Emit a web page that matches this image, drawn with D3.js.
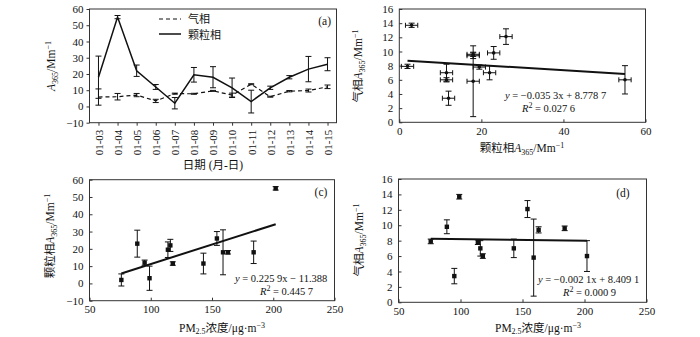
<!DOCTYPE html>
<html><head><meta charset="utf-8">
<script src="https://cdn.jsdelivr.net/npm/d3@7"></script>
<style>
body{margin:0;background:#fff;}
text{font-family:"Liberation Serif","Times New Roman","Noto Sans CJK SC",serif;fill:#111;}
</style></head>
<body><svg id="c" width="700" height="337"></svg>
<script>
// ---- data ----
const dates = ["01-03","01-04","01-05","01-06","01-07","01-08","01-09","01-10","01-11","01-12","01-13","01-14","01-15"];
const gas = [5.8,6.0,7.0,3.4,7.9,7.8,9.6,7.0,13.7,6.0,9.4,9.8,12.1];
const gasErr = [5,2,1,1,0.3,0.3,0.3,1.2,0.3,0.3,0.4,0.9,1.1];
const particle = [18,55,22,12,2,19.5,18,11.5,3,11.5,18,23,26];
const particleErr = [13,1,3.5,1.5,3.5,4.5,6.5,6,7,1,1,7.8,4];
const particleErrX = [1.5,1.5,1.5,1.5,1.5,1.5,1.5,1.5,1.5,1.5,1.5,1.5,1.5];
const pm25 = [159,202,116,95,76,114,184,143,99,118,163,89,154];
const fitB = {slope:-0.0353, intercept:8.7787, x0:2, x1:55};
const fitC = {slope:0.2259, intercept:-11.388, x0:76, x1:202};
const fitD = {slope:-0.0021, intercept:8.4091, x0:76, x1:202};
const ticksA = [-10,0,10,20,30,40,50,60];
const ticksB_x = [0,20,40,60], ticksB_y = [0,2,4,6,8,10,12,14,16];
const ticksPM = [50,100,150,200,250];
const ticksC_y = [-10,0,10,20,30,40,50,60];
const ticksD_y = [0,2,4,6,8,10,12,14,16];

const svg = d3.select("#c");
const FS = 11;
const cnFont = '"Noto Sans CJK SC",sans-serif';

function frame(x0,x1,y0,y1){
  svg.append("rect").attr("x",x0).attr("y",y0).attr("width",x1-x0).attr("height",y1-y0)
    .attr("fill","none").attr("stroke","#333").attr("stroke-width",1);
}
function yAxis(scale,x,ticks,inward){
  const g = svg.append("g").attr("transform",`translate(${x},0)`)
    .call(d3.axisLeft(scale).tickValues(ticks).tickSize(inward?-3:3).tickPadding(inward?6:3));
  g.select(".domain").remove();
  g.selectAll("line").attr("stroke","#333");
  g.selectAll("text").style("font-size",FS+"px").attr("fill","#111");
  return g;
}
function xAxis(scale,y,ticks,inward){
  const g = svg.append("g").attr("transform",`translate(0,${y})`)
    .call(d3.axisBottom(scale).tickValues(ticks).tickSize(inward?-3:3).tickPadding(inward?5:3));
  g.select(".domain").remove();
  g.selectAll("line").attr("stroke","#333");
  g.selectAll("text").style("font-size",FS+"px").attr("fill","#111");
  return g;
}
function vErr(g,x,yT,yB,cap){
  g.append("line").attr("x1",x).attr("x2",x).attr("y1",yT).attr("y2",yB).attr("stroke","#111").attr("stroke-width",1);
  [yT,yB].forEach(y=>g.append("line").attr("x1",x-cap).attr("x2",x+cap).attr("y1",y).attr("y2",y).attr("stroke","#111").attr("stroke-width",1));
}
function hErr(g,y,xL,xR,cap){
  g.append("line").attr("x1",xL).attr("x2",xR).attr("y1",y).attr("y2",y).attr("stroke","#111").attr("stroke-width",1);
  [xL,xR].forEach(x=>g.append("line").attr("x1",x).attr("x2",x).attr("y1",y-cap).attr("y2",y+cap).attr("stroke","#111").attr("stroke-width",1));
}
function aTitle(t,prefix){
  if(prefix) t.append("tspan").style("font-family",cnFont).text(prefix);
  t.append("tspan").attr("font-style","italic").text("A");
  t.append("tspan").attr("font-size","8px").attr("dy",3).text("365");
  t.append("tspan").attr("dy",-3).text("/Mm");
  t.append("tspan").attr("font-size","8px").attr("dy",-4).text("−1");
}
function yTitle(x,y,prefix){
  const t = svg.append("text").attr("transform",`translate(${x},${y}) rotate(-90)`)
    .attr("text-anchor","middle").style("font-size","11.5px");
  aTitle(t,prefix);
}
function pmTitle(x,y){
  const t = svg.append("text").attr("x",x).attr("y",y).attr("text-anchor","middle").style("font-size","11.5px");
  t.append("tspan").text("PM");
  t.append("tspan").attr("font-size","8px").attr("dy",2).text("2.5");
  t.append("tspan").attr("dy",-2).style("font-family",cnFont).text("浓度");
  t.append("tspan").text("/μg·m");
  t.append("tspan").attr("font-size","8px").attr("dy",-4).text("−3");
}
function eqText(x,y,eq,r2,x2){
  const t = svg.append("text").attr("x",x).attr("y",y).style("font-size","10.5px");
  t.append("tspan").attr("font-style","italic").text("y");
  t.append("tspan").text(eq);
  const r = svg.append("text").attr("x",x2).attr("y",y+12.5).style("font-size","10.5px");
  r.append("tspan").attr("font-style","italic").text("R");
  r.append("tspan").attr("font-size","8px").attr("dy",-4).text("2");
  r.append("tspan").attr("dy",4).text(" = "+r2);
}
function fitLine(xs,ys,f){
  svg.append("line").attr("x1",xs(f.x0)).attr("x2",xs(f.x1))
    .attr("y1",ys(f.slope*f.x0+f.intercept)).attr("y2",ys(f.slope*f.x1+f.intercept))
    .attr("stroke","#111").attr("stroke-width",2);
}

// ---------- Panel (a) ----------
{
  const L=89.5,R=336.5,T=9,B=122.7;
  const x = d3.scalePoint().domain(dates).range([L,R]).padding(0.47);
  const y = d3.scaleLinear().domain([-10,60]).range([B,T]);
  frame(L,R,T,B);
  yAxis(y,L,ticksA,false);
  const gx = svg.append("g").attr("transform",`translate(0,${B})`).call(d3.axisBottom(x).tickSize(3));
  gx.select(".domain").remove();
  gx.selectAll("line").attr("stroke","#333");
  gx.selectAll("text").style("font-size",FS+"px").attr("fill","#111")
    .attr("transform","rotate(-90)").attr("text-anchor","end").attr("x",-7).attr("y",0).attr("dy","0.35em");
  const line = d3.line().x((d,i)=>x(dates[i])).y(d=>y(d));
  svg.append("path").datum(gas).attr("d",line).attr("fill","none").attr("stroke","#111").attr("stroke-width",1.2).attr("stroke-dasharray","4,3");
  svg.append("path").datum(particle).attr("d",line).attr("fill","none").attr("stroke","#111").attr("stroke-width",1.5);
  const ge = svg.append("g");
  dates.forEach((d,i)=>{
    vErr(ge,x(d),y(gas[i]+gasErr[i]),y(gas[i]-gasErr[i]),3);
    vErr(ge,x(d),y(particle[i]+particleErr[i]),y(particle[i]-particleErr[i]),3);
  });
  // legend
  svg.append("line").attr("x1",159).attr("x2",181).attr("y1",19).attr("y2",19).attr("stroke","#111").attr("stroke-width",1.2).attr("stroke-dasharray","4,3");
  svg.append("text").attr("x",188).attr("y",23).style("font-family",cnFont).style("font-size","11px").text("气相");
  svg.append("line").attr("x1",159).attr("x2",181).attr("y1",34).attr("y2",34).attr("stroke","#111").attr("stroke-width",1.5);
  svg.append("text").attr("x",188).attr("y",38.5).style("font-family",cnFont).style("font-size","11px").text("颗粒相");
  svg.append("text").attr("x",331).attr("y",25).attr("text-anchor","end").style("font-size","11.5px").text("(a)");
  yTitle(55,66,null);
  const xt = svg.append("text").attr("x",213).attr("y",169).attr("text-anchor","middle").style("font-size","11.5px");
  xt.append("tspan").style("font-family",cnFont).text("日期");
  xt.append("tspan").text(" (");
  xt.append("tspan").style("font-family",cnFont).text("月");
  xt.append("tspan").text("-");
  xt.append("tspan").style("font-family",cnFont).text("日");
  xt.append("tspan").text(")");
}

// ---------- Panel (b) ----------
{
  const L=399.3,R=645.5,T=9,B=122.3;
  const x = d3.scaleLinear().domain([0,60]).range([L,R]);
  const y = d3.scaleLinear().domain([0,16]).range([B,T]);
  frame(L,R,T,B);
  yAxis(y,L,ticksB_y,true);
  xAxis(x,B,ticksB_x,true);
  const g = svg.append("g");
  particle.forEach((p,i)=>{
    vErr(g,x(p),y(gas[i]+gasErr[i]),y(gas[i]-gasErr[i]),3);
    hErr(g,y(gas[i]),x(p-particleErrX[i]),x(p+particleErrX[i]),2.5);
    g.append("circle").attr("cx",x(p)).attr("cy",y(gas[i])).attr("r",1.8).attr("fill","#111");
  });
  fitLine(x,y,fitB);
  eqText(505,99," = −0.035 3x + 8.778 7","0.027 6",522);
  yTitle(362,66,"气相");
  const t = svg.append("text").attr("x",522).attr("y",152).attr("text-anchor","middle").style("font-size","11.5px");
  aTitle(t,"颗粒相");
}

// ---------- Panel (c) ----------
{
  const L=89.5,R=334.5,T=179.7,B=300.7;
  const x = d3.scaleLinear().domain([50,250]).range([L,R]);
  const y = d3.scaleLinear().domain([-10,60]).range([B,T]);
  frame(L,R,T,B);
  yAxis(y,L,ticksC_y,true);
  xAxis(x,B,ticksPM,true);
  const g = svg.append("g");
  pm25.forEach((p,i)=>{
    vErr(g,x(p),y(particle[i]+particleErr[i]),y(particle[i]-particleErr[i]),3);
    g.append("rect").attr("x",x(p)-2.2).attr("y",y(particle[i])-2.2).attr("width",4.4).attr("height",4.4).attr("fill","#111");
  });
  fitLine(x,y,fitC);
  svg.append("text").attr("x",321).attr("y",196).attr("text-anchor","middle").style("font-size","11.5px").text("(c)");
  eqText(235,282," = 0.225 9x −  11.388","0.445 7",260);
  yTitle(54,236,"颗粒相");
  pmTitle(222,332);
}

// ---------- Panel (d) ----------
{
  const L=398.5,R=646.5,T=179,B=302.3;
  const x = d3.scaleLinear().domain([50,250]).range([L,R]);
  const y = d3.scaleLinear().domain([0,16]).range([B,T]);
  frame(L,R,T,B);
  yAxis(y,L,ticksD_y,true);
  xAxis(x,B,ticksPM,true);
  const g = svg.append("g");
  pm25.forEach((p,i)=>{
    vErr(g,x(p),y(gas[i]+gasErr[i]),y(gas[i]-gasErr[i]),3);
    g.append("rect").attr("x",x(p)-2.2).attr("y",y(gas[i])-2.2).attr("width",4.4).attr("height",4.4).attr("fill","#111");
  });
  fitLine(x,y,fitD);
  svg.append("text").attr("x",623).attr("y",197).attr("text-anchor","middle").style("font-size","11.5px").text("(d)");
  eqText(538,283," = −0.002 1x + 8.409 1","0.000 9",563);
  yTitle(363,240,"气相");
  pmTitle(538,332);
}
</script></body></html>
